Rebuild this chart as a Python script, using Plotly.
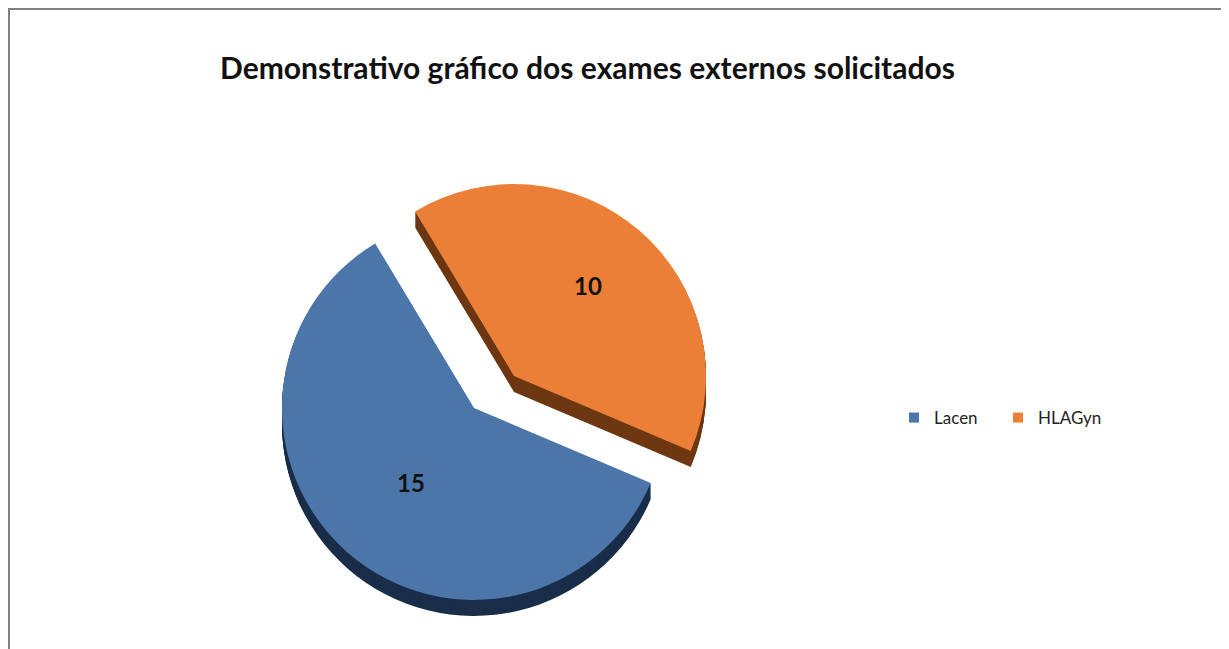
import plotly.graph_objects as go

categories = ["Lacen", "HLAGyn"]
values = [15, 10]
title_text = "Demonstrativo gráfico dos exames externos solicitados"

W, H = 1229, 649
BLUE, ORANGE = "#4C76AA", "#EC7F37"
BLUE_D, ORANGE_D = "#1A2E4A", "#6E3812"
CLEAR = "rgba(0,0,0,0)"
FONT = "Lato, Open Sans, sans-serif"
R = 192
DEPTH = 16
ROT = 329  # start angle of HLAGyn


def slice_trace(idx, cx, cy, color):
    colors = [CLEAR, CLEAR]
    colors[idx] = color
    return go.Pie(
        labels=categories[::-1],
        values=values[::-1],
        sort=False,
        direction="clockwise",
        rotation=ROT,
        domain=dict(x=[(cx - R) / W, (cx + R) / W], y=[1 - (cy + R) / H, 1 - (cy - R) / H]),
        marker=dict(colors=colors, line=dict(width=0)),
        textinfo="none",
        showlegend=False,
        hoverinfo="skip",
    )


fig = go.Figure()
centers = {0: (506, 368), 1: (466, 400)}  # 0 = HLAGyn, 1 = Lacen
shadow = {0: ORANGE_D, 1: BLUE_D}
face = {0: ORANGE, 1: BLUE}
for idx in (1, 0):
    cx, cy = centers[idx]
    for d in range(DEPTH, 0, -1):
        fig.add_trace(slice_trace(idx, cx, cy + d, shadow[idx]))
    fig.add_trace(slice_trace(idx, cx, cy, face[idx]))

for name, col in zip(categories, [BLUE, ORANGE]):
    fig.add_trace(go.Scatter(x=[None], y=[None], mode="markers", name=name,
                             marker=dict(symbol="square", size=10, color=col)))

label_pos = [(403, 474), (580, 277)]
annotations = [
    dict(text=f"<b>{v}</b>", x=x / W, y=1 - y / H, xref="paper", yref="paper", showarrow=False,
         xanchor="center", yanchor="middle",
         font=dict(family=FONT, size=24, color="#111111"))
    for v, (x, y) in zip(values, label_pos)
]

fig.update_layout(
    width=W, height=H,
    margin=dict(l=0, r=0, t=0, b=0),
    paper_bgcolor="white", plot_bgcolor="white",
    xaxis=dict(visible=False), yaxis=dict(visible=False),
    title=dict(text=f"<b>{title_text}</b>", x=579.5 / W, xanchor="center", y=1 - 60 / H, yanchor="middle",
               font=dict(family=FONT, size=30, color="#111111")),
    legend=dict(orientation="h", x=886 / W, y=1 - 410 / H, yanchor="middle", xanchor="left",
                font=dict(family=FONT, size=17, color="#222222"),
                entrywidth=59, entrywidthmode="pixels", itemwidth=30, bgcolor=CLEAR),
    annotations=annotations,
    shapes=[dict(type="line", xref="paper", yref="paper", x0=0, x1=1, y0=1 - 1 / H, y1=1 - 1 / H, line=dict(color="#808080", width=2)),
            dict(type="line", xref="paper", yref="paper", x0=1 / W, x1=1 / W, y0=0, y1=1, line=dict(color="#808080", width=2))],
)
fig.write_html("out.html")
